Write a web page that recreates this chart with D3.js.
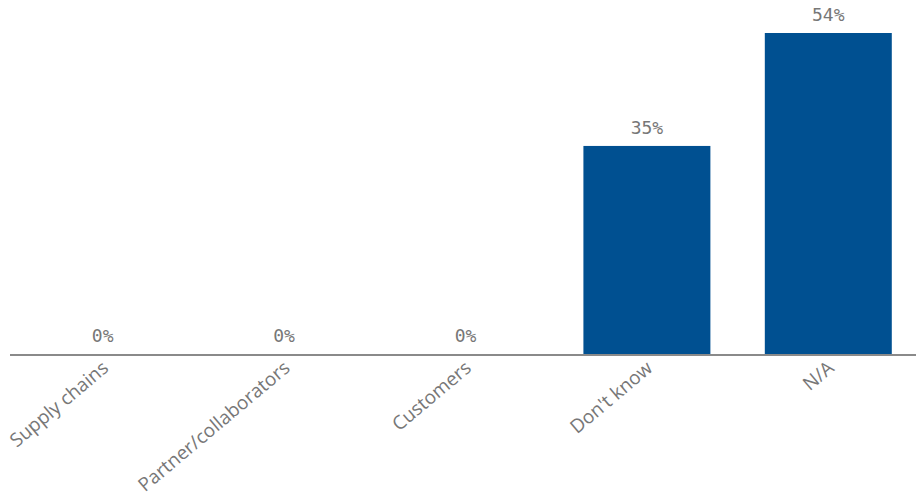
<!DOCTYPE html>
<html>
<head>
<meta charset="utf-8">
<script src="https://cdn.jsdelivr.net/npm/d3@7"></script>
<style>
  body { margin:0; background:#fff; }
</style>
</head>
<body>
<svg id="chart" width="916" height="502"></svg>
<script>
var categories = ["Supply chains", "Partner/collaborators", "Customers", "Don't know", "N/A"];
var values = [0, 0, 0, 35, 54];
var valueLabels = ["0%", "0%", "0%", "35%", "54%"];

var svg = d3.select("#chart");
var baseY = 354;

var x = d3.scaleBand()
    .domain(categories)
    .range([12, 919])
    .paddingInner(0.3)
    .paddingOuter(0.15);

var y = d3.scaleLinear()
    .domain([0, 54])
    .range([baseY, 33]);

// bars
svg.selectAll(".bar")
    .data(categories)
    .enter()
    .append("rect")
    .attr("class", "bar")
    .attr("x", function(d){ return x(d); })
    .attr("width", x.bandwidth())
    .attr("y", function(d, i){ return y(values[i]); })
    .attr("height", function(d, i){ return baseY - y(values[i]); })
    .attr("fill", "#005091");

// axis line
svg.append("line")
    .attr("x1", 10)
    .attr("x2", 916)
    .attr("y1", baseY + 1)
    .attr("y2", baseY + 1)
    .attr("stroke", "#8a8a8a")
    .attr("stroke-width", 2);

// value labels
svg.selectAll(".valueLabel")
    .data(categories)
    .enter()
    .append("text")
    .attr("class", "valueLabel")
    .attr("x", function(d){ return x(d) + x.bandwidth() / 2; })
    .attr("y", function(d, i){ return y(values[i]) - 12; })
    .style("fill", "#777777")
    .style("font-family", "DejaVu Sans Mono")
    .style("font-size", "18px")
    .style("text-anchor", "middle")
    .text(function(d, i){ return valueLabels[i]; });

// category labels
svg.selectAll(".catLabel")
    .data(categories)
    .enter()
    .append("text")
    .attr("class", "catLabel")
    .style("fill", "#777777")
    .style("font-family", "Open Sans")
    .style("font-size", "19px")
    .style("text-anchor", "end")
    .attr("transform", function(d){
        return "translate(" + (x(d) + x.bandwidth() / 2 + 7) + "," + (baseY + 16) + ") rotate(-40)";
    })
    .text(function(d){ return d; });
</script>
</body>
</html>
